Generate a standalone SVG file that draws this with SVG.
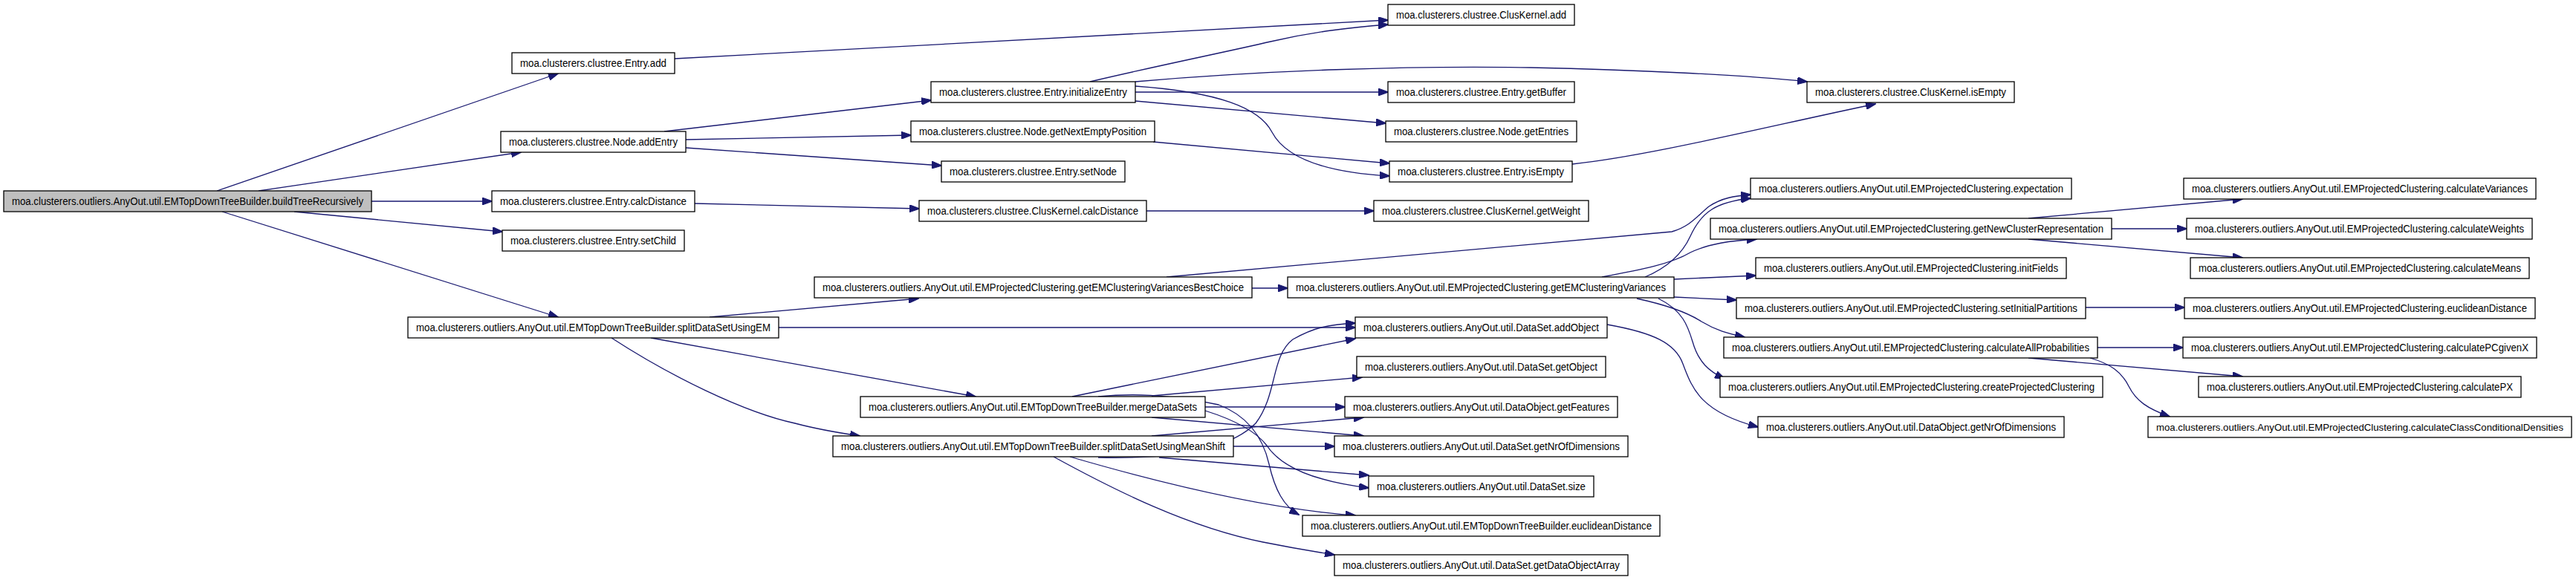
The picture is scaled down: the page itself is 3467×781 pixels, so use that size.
<svg xmlns="http://www.w3.org/2000/svg" width="3467" height="781" viewBox="0 0 3467 781">
<style>
.n rect{fill:#ffffff;stroke:#000000;stroke-width:1.3}
.n.root rect{fill:#bfbfbf}
.n text{font-family:"Liberation Sans",Arial,sans-serif;font-size:14px;fill:#000000}
.n text.sm{font-size:13px}
#edges path{fill:none;stroke:#191970;stroke-width:1.3;marker-end:url(#ah)}
</style>
<defs>
<marker id="ah" markerWidth="14" markerHeight="10" refX="13" refY="5" orient="auto" markerUnits="userSpaceOnUse"><path d="M0,0 L14,5 L0,10 z" fill="#191970" stroke="#191970" stroke-width="1"/></marker>
</defs>
<rect width="3467" height="781" fill="#ffffff"/>
<g id="edges">
<path d="M292,257 L751,99"/>
<path d="M348,257 L701,205"/>
<path d="M500,271 L662,271"/>
<path d="M396,285 L676,312"/>
<path d="M299,285 L751,427"/>
<path d="M908,79 L1868,27"/>
<path d="M894,177 L1253,135"/>
<path d="M923,188 L1226,182"/>
<path d="M923,199 L1267,223"/>
<path d="M935,274 L1237,281"/>
<path d="M1467,110 C1560,88 1650,70 1710,56 C1770,42 1820,37 1868,33"/>
<path d="M1528,110 C1700,95 1900,88 2060,91 C2200,94 2350,101 2432,110"/>
<path d="M1528,124 L1868,124"/>
<path d="M1528,136 L1865,166"/>
<path d="M1528,116 C1640,124 1695,145 1712,178 C1730,212 1780,232 1870,237"/>
<path d="M1552,191 L1870,220"/>
<path d="M2116,221 C2220,210 2380,170 2524,140"/>
<path d="M1543,284 L1849,284"/>
<path d="M955,427 L1236,402"/>
<path d="M1048,441 L1824,441"/>
<path d="M876,455 L1313,534"/>
<path d="M823,455 C900,505 1000,555 1070,570 C1100,578 1130,583 1157,587"/>
<path d="M1685,388 L1733,388"/>
<path d="M1570,373 L2250,312 C2275,305 2285,290 2300,278 C2318,266 2335,264 2356,262"/>
<path d="M2214,373 C2245,360 2265,340 2275,318 C2290,285 2310,272 2356,267"/>
<path d="M2156,373 C2210,363 2250,355 2275,340 C2300,328 2330,324 2364,322"/>
<path d="M2253,376 L2363,371"/>
<path d="M2253,400 L2337,404"/>
<path d="M2203,402 C2240,410 2270,420 2290,433 C2310,445 2325,449 2348,454"/>
<path d="M2232,402 C2265,418 2272,440 2278,460 C2286,488 2300,500 2321,510"/>
<path d="M2730,294 L3018,268"/>
<path d="M2842,308 L2943,308"/>
<path d="M2730,322 L3018,347"/>
<path d="M2807,414 L2940,414"/>
<path d="M2823,468 L2938,468"/>
<path d="M2730,482 L3018,507"/>
<path d="M2813,482 C2840,490 2855,500 2865,520 C2875,540 2890,550 2920,561"/>
<path d="M2163,437 C2225,448 2255,462 2265,490 C2278,525 2290,555 2366,575"/>
<path d="M1443,534 L1824,456"/>
<path d="M1550,533 L1833,508"/>
<path d="M1622,548 L1810,548"/>
<path d="M1622,553 C1660,565 1690,580 1705,600 C1725,630 1770,648 1842,657"/>
<path d="M1550,562 L1835,587"/>
<path d="M1478,534 C1520,530 1570,530 1640,545 C1680,560 1700,590 1708,625 C1716,660 1728,682 1748,693"/>
<path d="M1550,587 L1835,562"/>
<path d="M1478,616 C1560,618 1650,610 1690,570 C1720,530 1710,480 1740,457 C1770,440 1790,437 1824,435"/>
<path d="M1660,601 L1796,601"/>
<path d="M1560,616 L1842,640"/>
<path d="M1440,615 C1560,650 1700,685 1824,694"/>
<path d="M1418,615 C1500,660 1600,710 1700,730 C1740,738 1770,743 1796,747"/>
</g>
<g id="n1" class="n root"><rect x="5" y="257" width="495" height="28"/><text x="16" y="276" textLength="473" lengthAdjust="spacingAndGlyphs">moa.clusterers.outliers.AnyOut.util.EMTopDownTreeBuilder.buildTreeRecursively</text></g>
<g id="n2" class="n"><rect x="689" y="71" width="219" height="28"/><text x="700" y="90" textLength="197" lengthAdjust="spacingAndGlyphs">moa.clusterers.clustree.Entry.add</text></g>
<g id="n3" class="n"><rect x="674" y="177" width="249" height="28"/><text x="685" y="196" textLength="227" lengthAdjust="spacingAndGlyphs">moa.clusterers.clustree.Node.addEntry</text></g>
<g id="n4" class="n"><rect x="662" y="257" width="273" height="28"/><text x="673" y="276" textLength="251" lengthAdjust="spacingAndGlyphs">moa.clusterers.clustree.Entry.calcDistance</text></g>
<g id="n5" class="n"><rect x="676" y="310" width="245" height="28"/><text x="687" y="329" textLength="223" lengthAdjust="spacingAndGlyphs">moa.clusterers.clustree.Entry.setChild</text></g>
<g id="n6" class="n"><rect x="549" y="427" width="499" height="28"/><text x="560" y="446" textLength="477" lengthAdjust="spacingAndGlyphs">moa.clusterers.outliers.AnyOut.util.EMTopDownTreeBuilder.splitDataSetUsingEM</text></g>
<g id="n7" class="n"><rect x="1096" y="373" width="589" height="28"/><text x="1107" y="392" textLength="567" lengthAdjust="spacingAndGlyphs">moa.clusterers.outliers.AnyOut.util.EMProjectedClustering.getEMClusteringVariancesBestChoice</text></g>
<g id="n8" class="n"><rect x="1253" y="110" width="275" height="28"/><text x="1264" y="129" textLength="253" lengthAdjust="spacingAndGlyphs">moa.clusterers.clustree.Entry.initializeEntry</text></g>
<g id="n9" class="n"><rect x="1226" y="163" width="328" height="28"/><text x="1237" y="182" textLength="306" lengthAdjust="spacingAndGlyphs">moa.clusterers.clustree.Node.getNextEmptyPosition</text></g>
<g id="n10" class="n"><rect x="1267" y="217" width="247" height="28"/><text x="1278" y="236" textLength="225" lengthAdjust="spacingAndGlyphs">moa.clusterers.clustree.Entry.setNode</text></g>
<g id="n11" class="n"><rect x="1237" y="270" width="306" height="28"/><text x="1248" y="289" textLength="284" lengthAdjust="spacingAndGlyphs">moa.clusterers.clustree.ClusKernel.calcDistance</text></g>
<g id="n12" class="n"><rect x="1158" y="534" width="464" height="28"/><text x="1169" y="553" textLength="442" lengthAdjust="spacingAndGlyphs">moa.clusterers.outliers.AnyOut.util.EMTopDownTreeBuilder.mergeDataSets</text></g>
<g id="n13" class="n"><rect x="1121" y="587" width="539" height="28"/><text x="1132" y="606" textLength="517" lengthAdjust="spacingAndGlyphs">moa.clusterers.outliers.AnyOut.util.EMTopDownTreeBuilder.splitDataSetUsingMeanShift</text></g>
<g id="n14" class="n"><rect x="1868" y="6" width="251" height="28"/><text x="1879" y="25" textLength="229" lengthAdjust="spacingAndGlyphs">moa.clusterers.clustree.ClusKernel.add</text></g>
<g id="n15" class="n"><rect x="1868" y="110" width="251" height="28"/><text x="1879" y="129" textLength="229" lengthAdjust="spacingAndGlyphs">moa.clusterers.clustree.Entry.getBuffer</text></g>
<g id="n16" class="n"><rect x="1865" y="163" width="257" height="28"/><text x="1876" y="182" textLength="235" lengthAdjust="spacingAndGlyphs">moa.clusterers.clustree.Node.getEntries</text></g>
<g id="n17" class="n"><rect x="1870" y="217" width="246" height="28"/><text x="1881" y="236" textLength="224" lengthAdjust="spacingAndGlyphs">moa.clusterers.clustree.Entry.isEmpty</text></g>
<g id="n18" class="n"><rect x="1849" y="270" width="289" height="28"/><text x="1860" y="289" textLength="267" lengthAdjust="spacingAndGlyphs">moa.clusterers.clustree.ClusKernel.getWeight</text></g>
<g id="n19" class="n"><rect x="1733" y="373" width="520" height="28"/><text x="1744" y="392" textLength="498" lengthAdjust="spacingAndGlyphs">moa.clusterers.outliers.AnyOut.util.EMProjectedClustering.getEMClusteringVariances</text></g>
<g id="n20" class="n"><rect x="1824" y="427" width="339" height="28"/><text x="1835" y="446" textLength="317" lengthAdjust="spacingAndGlyphs">moa.clusterers.outliers.AnyOut.util.DataSet.addObject</text></g>
<g id="n21" class="n"><rect x="1826" y="480" width="335" height="28"/><text x="1837" y="499" textLength="313" lengthAdjust="spacingAndGlyphs">moa.clusterers.outliers.AnyOut.util.DataSet.getObject</text></g>
<g id="n22" class="n"><rect x="1810" y="534" width="367" height="28"/><text x="1821" y="553" textLength="345" lengthAdjust="spacingAndGlyphs">moa.clusterers.outliers.AnyOut.util.DataObject.getFeatures</text></g>
<g id="n23" class="n"><rect x="1796" y="587" width="395" height="28"/><text x="1807" y="606" textLength="373" lengthAdjust="spacingAndGlyphs">moa.clusterers.outliers.AnyOut.util.DataSet.getNrOfDimensions</text></g>
<g id="n24" class="n"><rect x="1842" y="641" width="303" height="28"/><text x="1853" y="660" textLength="281" lengthAdjust="spacingAndGlyphs">moa.clusterers.outliers.AnyOut.util.DataSet.size</text></g>
<g id="n25" class="n"><rect x="1753" y="694" width="481" height="28"/><text x="1764" y="713" textLength="459" lengthAdjust="spacingAndGlyphs">moa.clusterers.outliers.AnyOut.util.EMTopDownTreeBuilder.euclideanDistance</text></g>
<g id="n26" class="n"><rect x="1796" y="747" width="395" height="28"/><text x="1807" y="766" textLength="373" lengthAdjust="spacingAndGlyphs">moa.clusterers.outliers.AnyOut.util.DataSet.getDataObjectArray</text></g>
<g id="n27" class="n"><rect x="2432" y="110" width="279" height="28"/><text x="2443" y="129" textLength="257" lengthAdjust="spacingAndGlyphs">moa.clusterers.clustree.ClusKernel.isEmpty</text></g>
<g id="n28" class="n"><rect x="2356" y="240" width="432" height="28"/><text x="2367" y="259" textLength="410" lengthAdjust="spacingAndGlyphs">moa.clusterers.outliers.AnyOut.util.EMProjectedClustering.expectation</text></g>
<g id="n29" class="n"><rect x="2302" y="294" width="540" height="28"/><text x="2313" y="313" textLength="518" lengthAdjust="spacingAndGlyphs">moa.clusterers.outliers.AnyOut.util.EMProjectedClustering.getNewClusterRepresentation</text></g>
<g id="n30" class="n"><rect x="2363" y="347" width="418" height="28"/><text x="2374" y="366" textLength="396" lengthAdjust="spacingAndGlyphs">moa.clusterers.outliers.AnyOut.util.EMProjectedClustering.initFields</text></g>
<g id="n31" class="n"><rect x="2337" y="401" width="470" height="28"/><text x="2348" y="420" textLength="448" lengthAdjust="spacingAndGlyphs">moa.clusterers.outliers.AnyOut.util.EMProjectedClustering.setInitialPartitions</text></g>
<g id="n32" class="n"><rect x="2320" y="454" width="503" height="28"/><text x="2331" y="473" textLength="481" lengthAdjust="spacingAndGlyphs">moa.clusterers.outliers.AnyOut.util.EMProjectedClustering.calculateAllProbabilities</text></g>
<g id="n33" class="n"><rect x="2315" y="507" width="515" height="28"/><text x="2326" y="526" textLength="493" lengthAdjust="spacingAndGlyphs">moa.clusterers.outliers.AnyOut.util.EMProjectedClustering.createProjectedClustering</text></g>
<g id="n34" class="n"><rect x="2366" y="561" width="412" height="28"/><text x="2377" y="580" textLength="390" lengthAdjust="spacingAndGlyphs">moa.clusterers.outliers.AnyOut.util.DataObject.getNrOfDimensions</text></g>
<g id="n35" class="n"><rect x="2939" y="240" width="474" height="28"/><text x="2950" y="259" textLength="452" lengthAdjust="spacingAndGlyphs">moa.clusterers.outliers.AnyOut.util.EMProjectedClustering.calculateVariances</text></g>
<g id="n36" class="n"><rect x="2943" y="294" width="465" height="28"/><text x="2954" y="313" textLength="443" lengthAdjust="spacingAndGlyphs">moa.clusterers.outliers.AnyOut.util.EMProjectedClustering.calculateWeights</text></g>
<g id="n37" class="n"><rect x="2948" y="347" width="456" height="28"/><text x="2959" y="366" textLength="434" lengthAdjust="spacingAndGlyphs">moa.clusterers.outliers.AnyOut.util.EMProjectedClustering.calculateMeans</text></g>
<g id="n38" class="n"><rect x="2940" y="401" width="472" height="28"/><text x="2951" y="420" textLength="450" lengthAdjust="spacingAndGlyphs">moa.clusterers.outliers.AnyOut.util.EMProjectedClustering.euclideanDistance</text></g>
<g id="n39" class="n"><rect x="2938" y="454" width="476" height="28"/><text x="2949" y="473" textLength="454" lengthAdjust="spacingAndGlyphs">moa.clusterers.outliers.AnyOut.util.EMProjectedClustering.calculatePCgivenX</text></g>
<g id="n40" class="n"><rect x="2959" y="507" width="434" height="28"/><text x="2970" y="526" textLength="412" lengthAdjust="spacingAndGlyphs">moa.clusterers.outliers.AnyOut.util.EMProjectedClustering.calculatePX</text></g>
<g id="n41" class="n"><rect x="2891" y="561" width="570" height="28"/><text class="sm" x="2902" y="579.5" textLength="548" lengthAdjust="spacingAndGlyphs">moa.clusterers.outliers.AnyOut.util.EMProjectedClustering.calculateClassConditionalDensities</text></g>
</svg>
